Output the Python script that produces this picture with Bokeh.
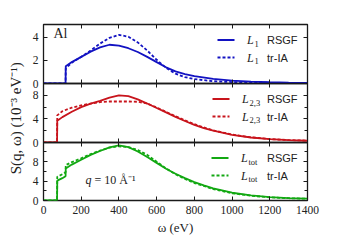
import math
from bokeh.plotting import figure
from bokeh.layouts import column, row
from bokeh.models import Range1d, LinearAxis, SingleIntervalTicker, Label, Arrow, CustomJSTickFormatter
from bokeh.embed import file_html
from bokeh.resources import INLINE

# ---------------- data ----------------
omega_L1 = [0, 117, 118, 150, 200, 250, 300, 350, 400, 450, 500, 550, 600, 650, 700, 750, 800, 900, 1000, 1100, 1200, 1300, 1400]
L1_rsgf = [0, 0, 1.5, 1.85, 2.3, 2.75, 3.12, 3.35, 3.28, 3.05, 2.72, 2.3, 1.85, 1.4, 1.05, 0.82, 0.63, 0.4, 0.25, 0.16, 0.11, 0.08, 0.06]
L1_tria = [0, 0, 1.3, 1.8, 2.3, 2.85, 3.45, 3.95, 4.2, 4.05, 3.55, 2.85, 2.05, 1.35, 0.85, 0.55, 0.38, 0.2, 0.12, 0.08, 0.06, 0.05, 0.04]

omega_L23 = [0, 72, 73, 100, 150, 200, 250, 300, 350, 400, 450, 500, 550, 600, 650, 700, 750, 800, 850, 900, 1000, 1100, 1200, 1300, 1400]
L23_rsgf = [0, 0, 3.7, 4.3, 5.2, 6.0, 6.6, 7.05, 7.6, 8.0, 7.85, 7.3, 6.6, 5.85, 5.1, 4.35, 3.65, 3.0, 2.45, 2.0, 1.3, 0.85, 0.57, 0.4, 0.3]
L23_tria = [0, 0, 4.6, 5.3, 5.9, 6.3, 6.6, 6.85, 6.95, 6.95, 6.95, 6.9, 6.6, 5.95, 5.2, 4.45, 3.75, 3.1, 2.55, 2.05, 1.35, 0.88, 0.58, 0.41, 0.31]

omega_tot = [0, 72, 73, 100, 117, 118, 150, 200, 250, 300, 350, 400, 450, 500, 550, 600, 650, 700, 750, 800, 850, 900, 1000, 1100, 1200, 1300, 1400]
Ltot_rsgf = [0, 0, 4.1, 4.6, 5.0, 6.6, 7.4, 8.4, 9.4, 10.2, 10.95, 11.35, 11.0, 10.1, 8.95, 7.75, 6.55, 5.5, 4.6, 3.8, 3.1, 2.5, 1.6, 1.05, 0.7, 0.5, 0.38]
Ltot_tria = [0, 0, 4.9, 5.4, 5.8, 7.3, 7.9, 8.7, 9.55, 10.3, 10.9, 11.15, 11.0, 10.4, 9.4, 8.0, 6.6, 5.4, 4.45, 3.6, 3.0, 2.35, 1.5, 0.98, 0.65, 0.47, 0.36]

x_tick_step = 200
panel_ymax = [5.1, 10, 11.95]
panel_ytick = [2, 4, 4]

# ---------------- styling ----------------
BLUE = "#1212c2"
RED = "#c8141c"
GREEN = "#12a812"
SERIF = "Liberation Serif"
SANS = "Liberation Sans"
FW = 264
FRAME_COL = "#1a1a1a"
TXT = "#222222"
YLABEL = "S(q, ω)  (10⁻³  eV⁻¹)"
DOT = "3 2"
LAB_W = 28          # width of the strip holding the y label
TOP = 24
FH = [59, 59, 58]
BOT = 40
OVER = 8            # border that overlaps between stacked panels

xr = Range1d(0, 1400)
blank = CustomJSTickFormatter(code="return ''")


def style_axis(ax, show_labels):
    ax.major_tick_in = 4
    ax.major_tick_out = 0
    ax.minor_tick_in = 3
    ax.minor_tick_out = 0
    ax.axis_line_color = None
    ax.major_tick_line_color = FRAME_COL
    ax.minor_tick_line_color = FRAME_COL
    ax.major_tick_line_width = 1
    ax.minor_tick_line_width = 1
    if show_labels:
        ax.major_label_text_font = SERIF
        ax.major_label_text_font_size = "11.5px"
        ax.major_label_text_color = TXT
        ax.major_label_standoff = 5
    else:
        ax.formatter = blank
        ax.major_label_text_font_size = "0px"
        ax.major_label_standoff = 0


def make_panel(ymax, ytick, nminor, fh, top, bottom, show_x):
    p = figure(frame_width=FW, frame_height=fh, x_range=xr, y_range=Range1d(0, ymax),
               x_axis_location=None, y_axis_location=None,
               output_backend="svg", toolbar_location=None,
               min_border_left=43 - LAB_W, min_border_right=21,
               min_border_top=top, min_border_bottom=bottom)
    p.grid.visible = False
    p.background_fill_color = None
    p.border_fill_color = None
    p.outline_line_color = FRAME_COL
    p.outline_line_width = 1.3

    bx = LinearAxis(ticker=SingleIntervalTicker(interval=x_tick_step, num_minor_ticks=0))
    style_axis(bx, show_x)
    if show_x:
        bx.axis_label = "ω (eV)"
        bx.axis_label_text_font = SERIF
        bx.axis_label_text_font_style = "normal"
        bx.axis_label_text_font_size = "13px"
        bx.axis_label_standoff = 3
        bx.axis_label_text_color = TXT
    p.add_layout(bx, "below")
    tx = LinearAxis(ticker=SingleIntervalTicker(interval=x_tick_step, num_minor_ticks=0))
    style_axis(tx, False)
    p.add_layout(tx, "above")

    ly = LinearAxis(ticker=SingleIntervalTicker(interval=ytick, num_minor_ticks=nminor))
    style_axis(ly, True)
    p.add_layout(ly, "left")
    ry = LinearAxis(ticker=SingleIntervalTicker(interval=ytick, num_minor_ticks=nminor))
    style_axis(ry, False)
    p.add_layout(ry, "right")
    return p


def add_legend(p, fh, color, sub, sub_w):
    label_x = 223.5
    l_x = label_x - 8 - sub_w - 8
    line_x1 = l_x - 12.5
    line_x0 = line_x1 - 17
    for dash, lab, ry in (("solid", "RSGF", 15.5), (DOT, "tr-IA", 33.0)):
        y = fh - ry
        p.add_layout(Arrow(end=None, x_start=line_x0, y_start=y, x_end=line_x1, y_end=y,
                           start_units="screen", end_units="screen",
                           line_color=color, line_width=2, line_dash=dash))
        p.add_layout(Label(x=l_x, y=y, x_units="screen", y_units="screen", text="L",
                           text_font=SERIF, text_font_style="italic", text_font_size="12px",
                           text_baseline="middle", text_color=TXT))
        p.add_layout(Label(x=l_x + 7.5, y=y - 3.5, x_units="screen", y_units="screen", text=sub,
                           text_font=SERIF, text_font_size="8.5px",
                           text_baseline="middle", text_color=TXT))
        p.add_layout(Label(x=label_x, y=y, x_units="screen", y_units="screen", text=lab,
                           text_font=SANS, text_font_size="11px",
                           text_baseline="middle", text_color=TXT))


p1 = make_panel(panel_ymax[0], panel_ytick[0], 0, FH[0], TOP, OVER, False)
p2 = make_panel(panel_ymax[1], panel_ytick[1], 2, FH[1], OVER, OVER, False)
p3 = make_panel(panel_ymax[2], panel_ytick[2], 2, FH[2], OVER, BOT, True)
p2.styles = {"margin-top": f"-{2 * OVER}px"}
p3.styles = {"margin-top": f"-{2 * OVER}px"}

p1.line(omega_L1, L1_rsgf, line_color=BLUE, line_width=1.8)
p1.line(omega_L1, L1_tria, line_color=BLUE, line_width=1.8, line_dash=DOT)
p2.line(omega_L23, L23_rsgf, line_color=RED, line_width=1.8)
p2.line(omega_L23, L23_tria, line_color=RED, line_width=1.8, line_dash=DOT)
p3.line(omega_tot, Ltot_rsgf, line_color=GREEN, line_width=1.8)
p3.line(omega_tot, Ltot_tria, line_color=GREEN, line_width=1.8, line_dash=DOT)

add_legend(p1, FH[0], BLUE, "1", 4)
add_legend(p2, FH[1], RED, "2,3", 9)
add_legend(p3, FH[2], GREEN, "tot", 10)

p1.add_layout(Label(x=10, y=FH[0] - 16, x_units="screen", y_units="screen", text="Al",
                    text_font=SERIF, text_font_size="14px", text_color=TXT))
p3.add_layout(Label(x=42, y=13.3, x_units="screen", y_units="screen", text="q",
                    text_font=SERIF, text_font_style="italic", text_font_size="12px", text_color=TXT))
p3.add_layout(Label(x=51, y=13.3, x_units="screen", y_units="screen", text="= 10 Å⁻¹",
                    text_font=SERIF, text_font_size="12px", text_color=TXT))

# strip holding the shared y-axis label
total_h = (TOP + FH[0] + OVER) + (OVER + FH[1] + OVER) + (OVER + FH[2] + BOT) - 4 * OVER
lab = figure(frame_width=LAB_W, frame_height=total_h, x_axis_location=None, y_axis_location=None,
             output_backend="svg", toolbar_location=None, min_border=0)
lab.grid.visible = False
lab.outline_line_color = None
lab.background_fill_color = None
lab.border_fill_color = None
mid_from_bottom = total_h - (TOP + FH[0] + FH[1] / 2 + 1.5)
lab.add_layout(Label(x=15, y=mid_from_bottom, x_units="screen", y_units="screen", text=YLABEL,
                     angle=math.pi / 2, text_align="center", text_baseline="middle",
                     text_font=SERIF, text_font_size="15px", text_color=TXT))

layout = row(lab, column(p1, p2, p3, spacing=0), spacing=0)
open("out.html", "w").write(file_html(layout, INLINE))
